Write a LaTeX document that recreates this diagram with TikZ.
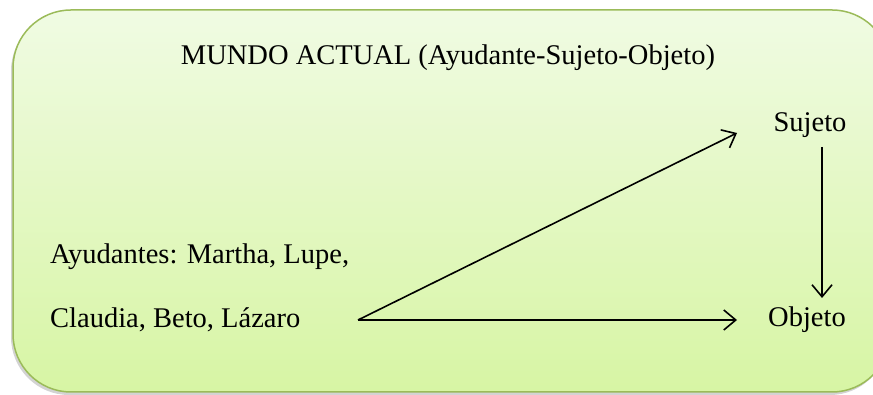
\documentclass[tikz,border=0pt]{standalone}
\usepackage{fontspec}
\setmainfont{Liberation Serif}
\usepackage{xcolor}
\usetikzlibrary{arrows.meta, positioning, calc, shadows}

\definecolor{marcoverde}{HTML}{9BBB59}
\definecolor{verdearriba}{HTML}{F0FBE3}
\definecolor{verdeabajo}{HTML}{D7F5A4}

\begin{document}
\begin{tikzpicture}[
    x=1pt, y=1pt,
    mundo/.style={
        rectangle, rounded corners=58pt, draw=marcoverde, line width=1.5pt,
        top color=verdearriba, bottom color=verdeabajo,
        drop shadow={shadow xshift=-2pt, shadow yshift=-3pt, opacity=0.35}
    },
    texto/.style={font=\fontsize{28.5}{32}\selectfont, text=black, inner sep=0pt},
    flecha/.style={-{Straight Barb[length=12pt, width=20pt]}, line width=1.6pt, draw=black}
]

\useasboundingbox (0,0) rectangle (873,395);

% Marco del mundo actual
\path[mundo] (13,3) rectangle (890,385);

% Titulo
\node[texto] (titulo) at (448,337) {MUNDO ACTUAL (Ayudante-Sujeto-Objeto)};

% Actantes
\node[texto] (sujeto) at (810,270) {Sujeto};
\node[texto] (objeto) at (807,75) {Objeto};
\node[texto, anchor=west] (ayud1) at (50,138) {Ayudantes: Martha, Lupe,};
\node[texto, anchor=west] (ayud2) at (50,75) {Claudia, Beto, Lázaro};

% Puntos de las flechas
\coordinate (origen) at ($(ayud2.west)+(308,0)$);
\coordinate (finsuj) at ($(sujeto.center)+(-73,-8)$);
\coordinate (finobj) at ($(objeto.center)+(-70,0)$);

% Flechas
\draw[flecha] (origen) -- (finsuj);
\draw[flecha] (origen) -- (finobj);
\draw[flecha] ([xshift=12pt,yshift=-22pt]sujeto.center) -- ([xshift=15pt,yshift=22pt]objeto.center);

\end{tikzpicture}
\end{document}
